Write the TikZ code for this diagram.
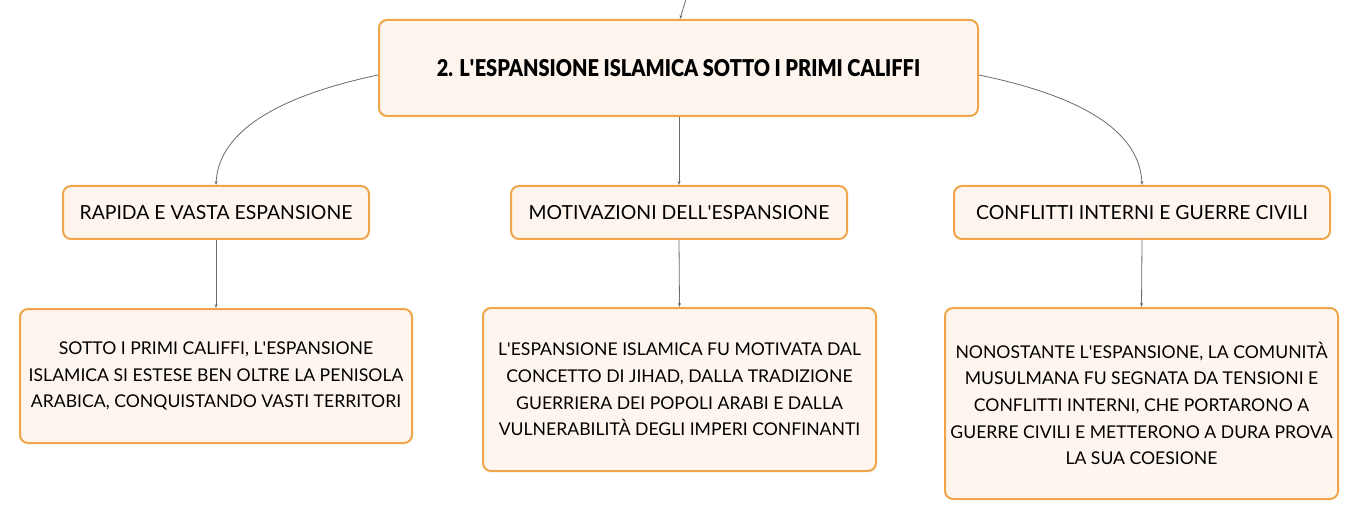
\documentclass[tikz,border=0pt]{standalone}
\usepackage{fontspec}
\setmainfont{Lato}
\newfontfamily\titlefont[FakeStretch=0.86]{Lato Black}
\usetikzlibrary{arrows.meta}
\definecolor{boxborder}{HTML}{F0A54A}
\definecolor{boxfill}{HTML}{FEF6EE}
\definecolor{linkgray}{HTML}{6B6B6B}
\newcommand{\ap}{\textquotesingle}
\begin{document}
\begin{tikzpicture}[x=1pt,y=-1pt,
  box/.style={draw=boxborder,fill=boxfill,line width=2pt,rounded corners=8pt,
    align=center,inner sep=0pt,font=\fontsize{17.6}{26.7}\selectfont,text=black},
  head/.style={box,minimum height=53pt,font=\fontsize{19.4}{24}\selectfont},
  link/.style={draw=linkgray,line width=0.8pt,-{Stealth[length=4pt,width=3pt]}}]
\useasboundingbox (0,0) rectangle (1359,521);
\node[box,minimum width=599pt,minimum height=96pt,font=\titlefont\fontsize{23.2}{26}\selectfont] (title) at (678.5,68) {2. L\ap ESPANSIONE ISLAMICA SOTTO I PRIMI CALIFFI};
\node[head,minimum width=306pt] (a) at (216,212.5) {RAPIDA E VASTA ESPANSIONE};
\node[head,minimum width=336pt] (b) at (679,212.5) {MOTIVAZIONI DELL\ap ESPANSIONE};
\node[head,minimum width=376pt] (c) at (1142,212.5) {CONFLITTI INTERNI E GUERRE CIVILI};
\node[box,minimum width=392pt,minimum height=134pt] (a1) at (216,376) {SOTTO I PRIMI CALIFFI, L\ap ESPANSIONE\\ISLAMICA SI ESTESE BEN OLTRE LA PENISOLA\\ARABICA, CONQUISTANDO VASTI TERRITORI};
\node[box,minimum width=393pt,minimum height=163pt] (b1) at (679.5,389.5) {L\ap ESPANSIONE ISLAMICA FU MOTIVATA DAL\\CONCETTO DI JIHAD, DALLA TRADIZIONE\\GUERRIERA DEI POPOLI ARABI E DALLA\\VULNERABILITÀ DEGLI IMPERI CONFINANTI};
\node[box,minimum width=393pt,minimum height=191pt] (c1) at (1141.5,403.5) {NONOSTANTE L\ap ESPANSIONE, LA COMUNITÀ\\MUSULMANA FU SEGNATA DA TENSIONI E\\CONFLITTI INTERNI, CHE PORTARONO A\\GUERRE CIVILI E METTERONO A DURA PROVA\\LA SUA COESIONE};
\coordinate (top) at (686,-1);
\draw[link] (top) -- (title.north -| 680,0);
\draw[link] (title.west |- 0,75) .. controls (260,100) and (218,140) .. (a.north);
\draw[link] (title.east |- 0,75) .. controls (1100,100) and (1140,140) .. (c.north);
\draw[link] (title.south -| b.north) -- (b.north);
\draw[link] (a.south) -- (a1.north);
\draw[link] (b.south) -- (b1.north);
\draw[link] (c.south) -- (c1.north);
\end{tikzpicture}
\end{document}
